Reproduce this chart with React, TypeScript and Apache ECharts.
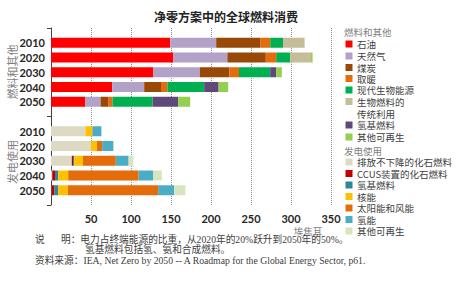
import React, { useEffect, useRef } from "react";
import * as echarts from "echarts";

// Years shown in each group
const years = ["2010", "2020", "2030", "2040", "2050"];

// Final consumption of fuels and other (EJ)
const fuelNames = ["石油", "天然气", "煤炭", "取暖", "现代生物能源", "生物燃料的传统利用", "氢基燃料", "其他可再生"];
const fuelColors = ["#FF0000", "#B3A2C7", "#984807", "#E46C0A", "#00B050", "#C4BD97", "#5F497A", "#92D050"];
const oil = [149, 153, 128, 76.5, 43];
const gas = [57.5, 67.5, 58, 40, 19];
const coal = [55.5, 48, 37, 21, 10];
const heat = [12, 13, 12, 8, 5];
const modernBio = [16, 17.5, 39, 46, 50];
const tradBio = [27, 26, 0, 0, 0];
const hydrogenFuel = [0, 0, 7.5, 18, 32];
const otherRenewFuel = [0, 2, 7, 12, 15];

// Fuels used for electricity generation (EJ)
const powerNames = ["排放不下降的化石燃料", "CCUS装置的化石燃料", "氢基燃料", "核能", "太阳能和风能", "氢能", "其他可再生"];
const powerColors = ["#DDD9C3", "#C00000", "#31849B", "#FFC000", "#E46C0A", "#4BACC6", "#D7E4BD"];
const unabated = [43, 50, 26, 1.5, 0.5];
const ccus = [0, 0, 1.5, 3.5, 3.5];
const hydrogenPower = [0, 0, 1.5, 4, 5];
const nuclear = [8.5, 7.5, 11, 12.5, 12];
const solarWind = [0.5, 6.5, 41, 88, 113];
const hydro = [11, 14, 16, 18, 20];
const otherRenewPower = [0, 0.5, 6, 11, 14];

// x axis ticks
const xTicks = [0, 50, 100, 150, 200, 250, 300, 350];

const fuelSeries = [oil, gas, coal, heat, modernBio, tradBio, hydrogenFuel, otherRenewFuel];
const powerSeries = [unabated, ccus, hydrogenPower, nuclear, solarWind, hydro, otherRenewPower];

// Category slots: blank, fuel years, blank, power years, blank
const categories = ["gap0", ...years.map((y) => "f" + y), "gap1", ...years.map((y) => "p" + y), "gap2"];

function App() {
  const ref = useRef<HTMLDivElement>(null);

  useEffect(() => {
    if (!ref.current) return;
    const chart = echarts.init(ref.current, null, { renderer: "svg" });

    const series: any[] = [];
    fuelSeries.forEach((vals, i) => {
      const data: any[] = categories.map(() => "-");
      vals.forEach((v, j) => {
        data[1 + j] = v > 0 ? v : "-";
      });
      series.push({
        name: "fuel-" + fuelNames[i],
        type: "bar",
        stack: "total",
        barWidth: 10,
        itemStyle: { color: fuelColors[i] },
        data,
      });
    });
    powerSeries.forEach((vals, i) => {
      const data: any[] = categories.map(() => "-");
      vals.forEach((v, j) => {
        data[7 + j] = v > 0 ? v : "-";
      });
      series.push({
        name: "power-" + powerNames[i],
        type: "bar",
        stack: "total",
        barWidth: 10,
        itemStyle: { color: powerColors[i] },
        data,
      });
    });

    const cjkFont = '"Noto Sans CJK SC", sans-serif';
    const legendItems: any[] = [];
    const header = (text: string, y: number) => {
      legendItems.push({
        type: "text",
        x: 344,
        y,
        style: { text, fill: "#7f7f7f", font: `9.5px ${cjkFont}`, lineHeight: 10, textVerticalAlign: "middle" },
      });
    };
    const item = (text: string, color: string | null, y: number) => {
      if (color) {
        legendItems.push({
          type: "rect",
          shape: { x: 345.5, y: y - 3.5, width: 7, height: 7 },
          style: { fill: color },
        });
      }
      legendItems.push({
        type: "text",
        x: 357,
        y,
        style: { text, fill: "#404040", font: `9.5px ${cjkFont}`, lineHeight: 10, textVerticalAlign: "middle" },
      });
    };

    header("燃料和其他", 32);
    const fuelLegendY = [44, 56, 67.5, 78.5, 90, 101.5, 125, 137];
    fuelNames.forEach((n, i) => {
      if (i === 5) {
        item("生物燃料的", fuelColors[i], fuelLegendY[i]);
        item("传统利用", null, 113.5);
      } else {
        item(n, fuelColors[i], fuelLegendY[i]);
      }
    });
    header("发电使用", 150.5);
    const powerLegendY = [162, 173.5, 185, 196.5, 208, 219.5, 231];
    powerNames.forEach((n, i) => item(n, powerColors[i], powerLegendY[i]));

    const noteFont = '"Liberation Serif", "Noto Sans CJK SC", serif';
    const noteStyle = (text: string) => ({
      text,
      fill: "#404040",
      font: `9.7px ${noteFont}`,
      lineHeight: 10,
      textVerticalAlign: "middle",
    });

    chart.setOption({
      animation: false,
      title: {
        text: "净零方案中的全球燃料消费",
        left: 221,
        top: 5,
        textAlign: "center",
        textStyle: { fontSize: 12, fontWeight: "bold", color: "#222", fontFamily: cjkFont },
      },
      grid: { left: 51, right: 143, top: 28, bottom: 81, containLabel: false },
      xAxis: {
        type: "value",
        min: xTicks[0],
        max: xTicks[xTicks.length - 1],
        interval: 50,
        axisLine: { show: false },
        axisTick: { show: false },
        axisLabel: {
          margin: 8,
          fontSize: 11,
          fontWeight: "bold",
          color: "#262626",
          fontFamily: "Lato, sans-serif",
          formatter: (v: number) => (v === 0 ? "" : String(v)),
        },
        splitLine: { show: true, lineStyle: { type: "dotted", color: "#8c8c8c", width: 1 } },
      },
      yAxis: {
        type: "category",
        inverse: true,
        boundaryGap: false,
        data: categories,
        axisLine: { show: true, lineStyle: { color: "#404040", width: 1 } },
        axisTick: {
          show: true,
          length: 4,
          lineStyle: { color: "#404040" },
          interval: (idx: number) => idx === 0 || idx === 6 || idx === 12,
        },
        axisLabel: {
          margin: 6,
          fontSize: 11,
          fontWeight: "bold",
          color: "#262626",
          fontFamily: "Lato, sans-serif",
          interval: 0,
          formatter: (v: string) => (v.startsWith("gap") ? "" : v.slice(1)),
        },
        splitLine: { show: false },
      },
      series,
      graphic: [
        {
          type: "text",
          x: 12,
          y: 72,
          rotation: Math.PI / 2,
          style: {
            text: "燃料和其他",
            fill: "#7f7f7f",
            font: `11px ${cjkFont}`,
            textAlign: "center",
            textVerticalAlign: "middle",
          },
        },
        {
          type: "text",
          x: 12,
          y: 162,
          rotation: Math.PI / 2,
          style: {
            text: "发电使用",
            fill: "#7f7f7f",
            font: `11px ${cjkFont}`,
            textAlign: "center",
            textVerticalAlign: "middle",
          },
        },
        {
          type: "text",
          x: 308,
          y: 230.5,
          style: { text: "埃焦耳", fill: "#7f7f7f", font: `9.5px ${cjkFont}`, lineHeight: 10, textAlign: "center", textVerticalAlign: "middle" },
        },
        ...legendItems,
        { type: "text", x: 35, y: 239, style: noteStyle("说") },
        { type: "text", x: 61, y: 239, style: noteStyle("明：电力占终端能源的比重，从2020年的20%跃升到2050年的50%。") },
        { type: "text", x: 85, y: 249.5, style: noteStyle("氢基燃料包括氢、氨和合成燃料。") },
        { type: "text", x: 35, y: 260, style: noteStyle("资料来源：IEA, Net Zero by 2050 -- A Roadmap for the Global Energy Sector, p61.") },
      ],
    });

    return () => chart.dispose();
  }, []);

  return (
    <div
      ref={ref}
      style={{ position: "fixed", left: 0, top: 0, width: 474, height: 286, background: "#fff" }}
    />
  );
}

export default App;
